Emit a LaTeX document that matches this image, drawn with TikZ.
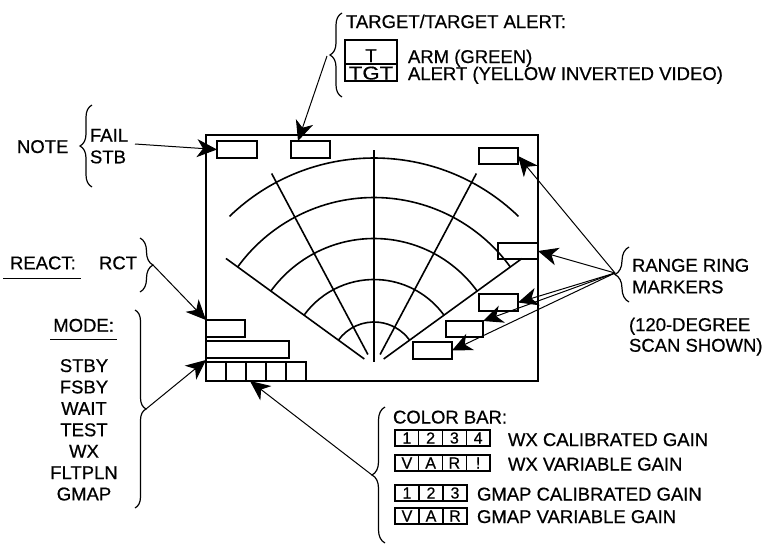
\documentclass[tikz,border=0pt]{standalone}
\usepackage{fontspec}
\usepackage{graphicx}
\setmainfont[FakeBold=0.6]{Liberation Sans}
\usetikzlibrary{arrows.meta,decorations.pathreplacing,calc}
\begin{document}
\begin{tikzpicture}[x=1pt,y=-1pt,
  lbl/.style={inner sep=0pt, outer sep=0pt, anchor=base west, font=\fontsize{18.5}{21}\selectfont},
  ctr/.style={inner sep=0pt, outer sep=0pt, anchor=base, font=\fontsize{18.5}{21}\selectfont},
  box/.style={draw, line width=1.6pt, inner sep=0pt, outer sep=0pt, anchor=north west},
  cell/.style={draw, line width=1.2pt, inner sep=0pt, outer sep=0pt, minimum height=16pt, anchor=north west, font=\fontsize{16}{16}\selectfont},
  arr/.style={line width=1pt, -{Stealth[length=20pt,width=18pt,inset=6pt]}},
  brc/.style={decorate, decoration={brace, amplitude=#1}, line width=1.2pt},
  brc/.default=12,
  radar/.style={line width=1.6pt},
  uline/.style={line width=1.1pt}
  ]
\useasboundingbox (0,0) rectangle (765,544);

% ---------- display ----------
\node[box, minimum width=332pt, minimum height=246pt] (disp) at (206,135) {};
\node[box, minimum width=40pt, minimum height=17pt] (fail) at (217,141) {};
\node[box, minimum width=39pt, minimum height=17pt] (tgtb) at (291,141) {};
\node[box, minimum width=39pt, minimum height=16pt] (rr1) at (479,148) {};
\node[box, minimum width=40pt, minimum height=16pt] (rr2) at (498,243) {};
\node[box, minimum width=39pt, minimum height=17pt] (rr3) at (479,294) {};
\node[box, minimum width=37pt, minimum height=16pt] (rr4) at (446,321) {};
\node[box, minimum width=39pt, minimum height=17pt] (rr5) at (413,342) {};
\node[box, minimum width=39pt, minimum height=17pt] (rct) at (206,320) {};
\node[box, minimum width=83pt, minimum height=17pt] (modeb) at (206,341) {};
\foreach \i in {0,...,4}{
  \node[box, minimum width=20pt, minimum height=19pt] (cb\i) at (206+20*\i,362) {};
}

% radar
\coordinate (C) at (374,366);
\draw[radar] (C) ++(-134:208) arc[start angle=-134, end angle=-46, radius=208];
\foreach \r in {168.5,127.5,86.5,44}{
  \draw[radar] (C) ++(-144:\r) arc[start angle=-144, end angle=-36, radius=\r];
}
\draw[radar] ($(C)+(-90:4.5)$) -- ($(C)+(-90:216)$);
\draw[radar] ($(C)+(-118:13)$) -- ($(C)+(-118:218)$);
\draw[radar] ($(C)+(-62:13)$) -- ($(C)+(-62:218)$);
\draw[radar] ($(C)+(-144:12)$) -- ($(C)+(-144:183)$);
\draw[radar] ($(C)+(-36:12)$) -- ($(C)+(-36:183)$);

% ---------- target / target alert ----------
\node[lbl] (ttl) at (346,28) {TARGET/TARGET ALERT:};
\node[box, minimum width=52pt, minimum height=24pt] (tbox) at (345,40) {};
\node[box, minimum width=52pt, minimum height=17pt] (tgtbox) at (345,64) {};
\node[ctr] (tt) at (371,62) {T};
\node[ctr] (ttgt) at (371,79.5) {\scalebox{1.2}[1]{TGT}};
\node[lbl] (arm) at (408,63) {ARM (GREEN)};
\node[lbl] (alert) at (408,80) {ALERT (YELLOW INVERTED VIDEO)};
\draw[brc=12] (342,97) -- (342,13);
\coordinate (ttip) at (327,56);
\draw[arr] (ttip) -- ($(tgtb.north west)+(7,0)$);

% ---------- note ----------
\node[lbl] (note) at (17,153) {NOTE};
\node[lbl] (failt) at (90,141.7) {FAIL};
\node[lbl] (stbt) at (90,163.3) {STB};
\draw[brc=12] (92,187) -- (92,105);
\coordinate (ntip) at (135,144);
\draw[arr] (ntip) -- (fail.west);

% ---------- react ----------
\node[lbl] (react) at (10,269.3) {REACT:};
\node[lbl] (rctt) at (99,269.3) {RCT};
\draw[uline] (3,278.3) -- (81,278.3);
\draw[brc=13] (140,238) -- (140,292);
\coordinate (rtip) at (153,265);
\draw[arr] (rtip) -- (rct.north west);

% ---------- mode ----------
\node[lbl] (mode) at (53.3,331.7) {MODE:};
\draw[uline] (50,339.3) -- (117.3,339.3);
\foreach \t [count=\k from 0] in {STBY,FSBY,WAIT,TEST,WX,FLTPLN,GMAP}{
  \node[ctr] (m\k) at (84,372+21.4*\k) {\t};
}
\draw[brc=11] (135,310) -- (135,508);
\coordinate (mtip) at (146,409);
\draw[arr] (mtip) -- ($(modeb.south west)!0.5!(cb0.north west)$);

% ---------- range ring markers ----------
\node[lbl] (rrt1) at (632,271.7) {RANGE RING};
\node[lbl] (rrt2) at (632,293.3) {MARKERS};
\node[lbl] (sc1) at (629,331) {(120-DEGREE};
\node[lbl] (sc2) at (629,351.7) {SCAN SHOWN)};
\draw[brc=14] (629,302) -- (629,247);
\coordinate (rrtip) at (615,273);
\draw[arr] (rrtip) -- (rr1.east);
\draw[arr] (rrtip) -- (rr2.east);
\draw[arr] (rrtip) -- (rr3.east);
\draw[arr] (rrtip) -- (rr4.north east);
\draw[arr] (rrtip) -- (rr5.east);

% ---------- color bar ----------
\node[lbl] (cbt) at (393,423.5) {COLOR BAR:};
\foreach \t [count=\k from 0] in {1,2,3,4}{
  \node[cell, minimum width=23.75pt] (a\k) at (395+23.75*\k,430) {\t};
}
\foreach \t [count=\k from 0] in {V,A,R,!}{
  \node[cell, minimum width=23.75pt] (b\k) at (395+23.75*\k,455) {\t};
}
\foreach \t [count=\k from 0] in {1,2,3}{
  \node[cell, minimum width=24pt] (c\k) at (395+24*\k,485) {\t};
}
\foreach \t [count=\k from 0] in {V,A,R}{
  \node[cell, minimum width=24pt] (d\k) at (395+24*\k,508) {\t};
}
\node[lbl] (wxc) at (508,446) {WX CALIBRATED GAIN};
\node[lbl] (wxv) at (508,470.5) {WX VARIABLE GAIN};
\node[lbl] (gmc) at (477,500.5) {GMAP CALIBRATED GAIN};
\node[lbl] (gmv) at (477,523) {GMAP VARIABLE GAIN};
\draw[brc=13] (385,543) -- (385,407);
\coordinate (ctip) at (372,475);
\draw[arr] (ctip) -- ($(cb2.south west)+(4,0)$);

\end{tikzpicture}
\end{document}
